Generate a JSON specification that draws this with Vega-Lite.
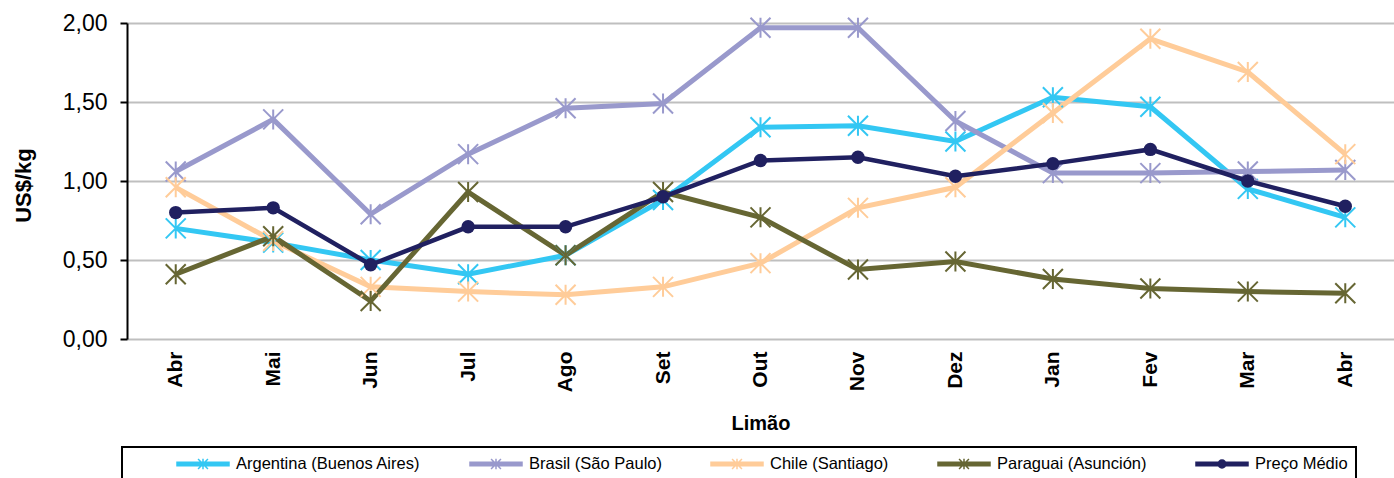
{
  "$schema": "https://vega.github.io/schema/vega-lite/v6.json",
  "autosize": "none",
  "width": 1267,
  "height": 316,
  "padding": {"left": 127, "top": 23, "right": 0, "bottom": 139},
  "background": "white",
  "config": {
    "view": {"stroke": null},
    "font": "Liberation Sans"
  },
  "data": {
    "values": [
      {"serie": "Argentina (Buenos Aires)", "ordem": 1, "preco": 0.70},
      {"serie": "Argentina (Buenos Aires)", "ordem": 2, "preco": 0.61},
      {"serie": "Argentina (Buenos Aires)", "ordem": 3, "preco": 0.50},
      {"serie": "Argentina (Buenos Aires)", "ordem": 4, "preco": 0.41},
      {"serie": "Argentina (Buenos Aires)", "ordem": 5, "preco": 0.53},
      {"serie": "Argentina (Buenos Aires)", "ordem": 6, "preco": 0.88},
      {"serie": "Argentina (Buenos Aires)", "ordem": 7, "preco": 1.34},
      {"serie": "Argentina (Buenos Aires)", "ordem": 8, "preco": 1.35},
      {"serie": "Argentina (Buenos Aires)", "ordem": 9, "preco": 1.25},
      {"serie": "Argentina (Buenos Aires)", "ordem": 10, "preco": 1.53},
      {"serie": "Argentina (Buenos Aires)", "ordem": 11, "preco": 1.47},
      {"serie": "Argentina (Buenos Aires)", "ordem": 12, "preco": 0.95},
      {"serie": "Argentina (Buenos Aires)", "ordem": 13, "preco": 0.77},
      {"serie": "Brasil (São Paulo)", "ordem": 1, "preco": 1.06},
      {"serie": "Brasil (São Paulo)", "ordem": 2, "preco": 1.39},
      {"serie": "Brasil (São Paulo)", "ordem": 3, "preco": 0.79},
      {"serie": "Brasil (São Paulo)", "ordem": 4, "preco": 1.17},
      {"serie": "Brasil (São Paulo)", "ordem": 5, "preco": 1.46},
      {"serie": "Brasil (São Paulo)", "ordem": 6, "preco": 1.49},
      {"serie": "Brasil (São Paulo)", "ordem": 7, "preco": 1.97},
      {"serie": "Brasil (São Paulo)", "ordem": 8, "preco": 1.97},
      {"serie": "Brasil (São Paulo)", "ordem": 9, "preco": 1.38},
      {"serie": "Brasil (São Paulo)", "ordem": 10, "preco": 1.05},
      {"serie": "Brasil (São Paulo)", "ordem": 11, "preco": 1.05},
      {"serie": "Brasil (São Paulo)", "ordem": 12, "preco": 1.06},
      {"serie": "Brasil (São Paulo)", "ordem": 13, "preco": 1.07},
      {"serie": "Chile (Santiago)", "ordem": 1, "preco": 0.96},
      {"serie": "Chile (Santiago)", "ordem": 2, "preco": 0.62},
      {"serie": "Chile (Santiago)", "ordem": 3, "preco": 0.33},
      {"serie": "Chile (Santiago)", "ordem": 4, "preco": 0.30},
      {"serie": "Chile (Santiago)", "ordem": 5, "preco": 0.28},
      {"serie": "Chile (Santiago)", "ordem": 6, "preco": 0.33},
      {"serie": "Chile (Santiago)", "ordem": 7, "preco": 0.48},
      {"serie": "Chile (Santiago)", "ordem": 8, "preco": 0.83},
      {"serie": "Chile (Santiago)", "ordem": 9, "preco": 0.96},
      {"serie": "Chile (Santiago)", "ordem": 10, "preco": 1.43},
      {"serie": "Chile (Santiago)", "ordem": 11, "preco": 1.90},
      {"serie": "Chile (Santiago)", "ordem": 12, "preco": 1.69},
      {"serie": "Chile (Santiago)", "ordem": 13, "preco": 1.17},
      {"serie": "Paraguai (Asunción)", "ordem": 1, "preco": 0.41},
      {"serie": "Paraguai (Asunción)", "ordem": 2, "preco": 0.65},
      {"serie": "Paraguai (Asunción)", "ordem": 3, "preco": 0.24},
      {"serie": "Paraguai (Asunción)", "ordem": 4, "preco": 0.93},
      {"serie": "Paraguai (Asunción)", "ordem": 5, "preco": 0.53},
      {"serie": "Paraguai (Asunción)", "ordem": 6, "preco": 0.93},
      {"serie": "Paraguai (Asunción)", "ordem": 7, "preco": 0.77},
      {"serie": "Paraguai (Asunción)", "ordem": 8, "preco": 0.44},
      {"serie": "Paraguai (Asunción)", "ordem": 9, "preco": 0.49},
      {"serie": "Paraguai (Asunción)", "ordem": 10, "preco": 0.38},
      {"serie": "Paraguai (Asunción)", "ordem": 11, "preco": 0.32},
      {"serie": "Paraguai (Asunción)", "ordem": 12, "preco": 0.30},
      {"serie": "Paraguai (Asunción)", "ordem": 13, "preco": 0.29},
      {"serie": "Preço Médio", "ordem": 1, "preco": 0.80},
      {"serie": "Preço Médio", "ordem": 2, "preco": 0.83},
      {"serie": "Preço Médio", "ordem": 3, "preco": 0.47},
      {"serie": "Preço Médio", "ordem": 4, "preco": 0.71},
      {"serie": "Preço Médio", "ordem": 5, "preco": 0.71},
      {"serie": "Preço Médio", "ordem": 6, "preco": 0.90},
      {"serie": "Preço Médio", "ordem": 7, "preco": 1.13},
      {"serie": "Preço Médio", "ordem": 8, "preco": 1.15},
      {"serie": "Preço Médio", "ordem": 9, "preco": 1.03},
      {"serie": "Preço Médio", "ordem": 10, "preco": 1.11},
      {"serie": "Preço Médio", "ordem": 11, "preco": 1.20},
      {"serie": "Preço Médio", "ordem": 12, "preco": 1.00},
      {"serie": "Preço Médio", "ordem": 13, "preco": 0.84}
    ]
  },
  "encoding": {
    "x": {
      "field": "ordem",
      "type": "ordinal",
      "title": "Limão",
      "axis": {
        "labelExpr": "['Abr','Mai','Jun','Jul','Ago','Set','Out','Nov','Dez','Jan','Fev','Mar','Abr'][datum.value - 1]",
        "labelAngle": 270,
        "labelAlign": "right",
        "labelBaseline": "middle",
        "labelFontSize": 21,
        "labelFontWeight": "bold",
        "labelColor": "black",
        "labelPadding": 12,
        "domain": false,
        "ticks": false,
        "grid": false,
        "titleFontSize": 20,
        "titleFontWeight": "bold",
        "titleColor": "black",
        "titleY": 84,
        "titleBaseline": "middle"
      }
    },
    "y": {
      "field": "preco",
      "type": "quantitative",
      "title": "US$/kg",
      "scale": {"domain": [0, 2], "nice": false},
      "axis": {
        "values": [0, 0.5, 1, 1.5, 2],
        "labelExpr": "replace(format(datum.value, '.2f'), '.', ',')",
        "labelFontSize": 23,
        "labelColor": "black",
        "labelPadding": 13,
        "domainColor": "black",
        "domainWidth": 2,
        "tickColor": "black",
        "tickWidth": 2,
        "tickSize": 7,
        "gridColor": "#BFBFBF",
        "gridWidth": 2,
        "titleFontSize": 22,
        "titleFontWeight": "bold",
        "titleColor": "black",
        "titleAngle": 270,
        "titleX": -104,
        "titleY": 162,
        "titleAlign": "center",
        "titleBaseline": "middle"
      }
    },
    "color": {
      "field": "serie",
      "type": "nominal",
      "scale": {
        "domain": ["Argentina (Buenos Aires)", "Brasil (São Paulo)", "Chile (Santiago)", "Paraguai (Asunción)", "Preço Médio"],
        "range": ["#33C7F3", "#9999CC", "#FFCC99", "#666633", "#202060"]
      },
      "legend": {
        "orient": "none",
        "legendX": -5,
        "legendY": 424,
        "direction": "horizontal",
        "title": "\u00a0",
        "titleOrient": "left",
        "titleFontSize": 16,
        "titlePadding": 46,
        "padding": 8,
        "strokeColor": "black",
        "symbolSize": 2704,
        "clipHeight": 18,
        "labelOffset": 6,
        "columnPadding": 48,
        "labelFontSize": 16.5,
        "labelLimit": 400,
        "labelColor": "black",
        "labelFont": "Liberation Sans",
        "symbolStrokeWidth": 1.5,
        "encode": {
          "legend": {
            "update": {
              "strokeWidth": {"value": 2}
            }
          },
          "symbols": {
            "update": {
              "shape": {"signal": "datum.value === 'Preço Médio' ? 'M-1,-0.07H1V0.07H-1Z M0.15,0A0.15,0.15 0 1,1 -0.15,0A0.15,0.15 0 1,1 0.15,0Z' : 'M-1,-0.07H1V0.07H-1Z M-0.19,-0.19L0.19,0.19M-0.19,0.19L0.19,-0.19M0,-0.2V0.2'"},
              "fill": {"scale": "color", "field": "value"},
              "stroke": {"scale": "color", "field": "value"},
              "strokeWidth": {"value": 1.5}
            }
          }
        }
      }
    }
  },
  "layer": [
    {
      "transform": [{"filter": "datum.serie !== 'Preço Médio'"}],
      "mark": {"type": "line", "strokeWidth": 5}
    },
    {
      "transform": [{"filter": "datum.serie !== 'Preço Médio'"}],
      "mark": {
        "type": "point",
        "filled": false,
        "shape": "M-1,-1L1,1M-1,1L1,-1M0,-1V1",
        "size": 400,
        "strokeWidth": 2,
        "opacity": 1
      }
    },
    {
      "transform": [{"filter": "datum.serie === 'Preço Médio'"}],
      "mark": {"type": "line", "strokeWidth": 4.5}
    },
    {
      "transform": [{"filter": "datum.serie === 'Preço Médio'"}],
      "mark": {"type": "point", "filled": true, "shape": "circle", "size": 180, "opacity": 1}
    }
  ]
}
